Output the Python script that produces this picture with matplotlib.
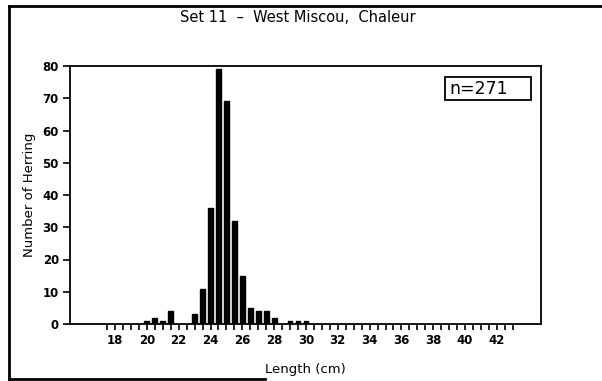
import matplotlib
matplotlib.use("Agg")
import matplotlib.pyplot as plt
import numpy as np
from matplotlib.lines import Line2D
from matplotlib.patches import Rectangle

# length classes (cm) and counts
lengths = [20.0, 20.5, 21.0, 21.5, 23.0, 23.5, 24.0, 24.5, 25.0, 25.5,
           26.0, 26.5, 27.0, 27.5, 28.0, 29.0, 29.5, 30.0]
counts = [1, 2, 1, 4, 3, 11, 36, 79, 69, 32,
          15, 5, 4, 4, 2, 1, 1, 1]

x_labels = list(range(18, 43, 2))
y_ticks = list(range(0, 81, 10))

title = "Set 11  \u2013  West Miscou,  Chaleur"
n_label = "n=271"


def main() -> None:
    fig = plt.figure(figsize=(6.02, 3.81), dpi=100)
    ax = fig.add_axes([70 / 602, 1 - 324 / 381, 471 / 602, 258 / 381])

    ax.bar(lengths, counts, width=0.3, color="black", edgecolor="black")

    ax.set_xlim(15.17, 44.77)
    ax.set_ylim(0, 80)

    ax.set_xticks(x_labels)
    ax.set_xticklabels([str(v) for v in x_labels], fontsize=8.5, fontweight="bold")
    ax.set_xticks(np.arange(17.5, 43.01, 0.5), minor=True)
    ax.set_yticks(y_ticks)
    ax.set_yticklabels([str(v) for v in y_ticks], fontsize=8.5, fontweight="bold")

    ax.tick_params(axis="x", which="both", direction="out", length=4, width=1.2, pad=3)
    ax.tick_params(axis="y", direction="out", length=5, width=1.2, pad=3)
    for side in ("left", "bottom", "right", "top"):
        ax.spines[side].set_linewidth(1.3)

    ax.set_ylabel("Number of Herring", fontsize=9.5, labelpad=5)
    fig.text(305 / 602, 1 - 370 / 381, "Length (cm)", fontsize=9.5,
             ha="center", va="center")

    fig.text(298 / 602, 1 - 17 / 381, title, ha="center", va="center", fontsize=10.5)

    # n box
    fig.add_artist(Rectangle((445 / 602, 1 - 100 / 381), 86 / 602, 23 / 381,
                             transform=fig.transFigure, facecolor="white",
                             edgecolor="black", linewidth=1.3))
    fig.text(449 / 602, 1 - 88.5 / 381, n_label, fontsize=12.5, ha="left", va="center")

    # outer frame (left, top, bottom)
    frame = dict(color="black", linewidth=2, transform=fig.transFigure)
    fig.add_artist(Line2D([9 / 602, 9 / 602], [1 - 6 / 381, 1 - 379 / 381], **frame))
    fig.add_artist(Line2D([9 / 602, 1.0], [1 - 6 / 381, 1 - 6 / 381], **frame))
    fig.add_artist(Line2D([9 / 602, 265 / 602], [1 - 379 / 381, 1 - 379 / 381], **frame))

    fig.savefig("out.png", dpi=100)
    plt.close(fig)


if __name__ == "__main__":
    main()
